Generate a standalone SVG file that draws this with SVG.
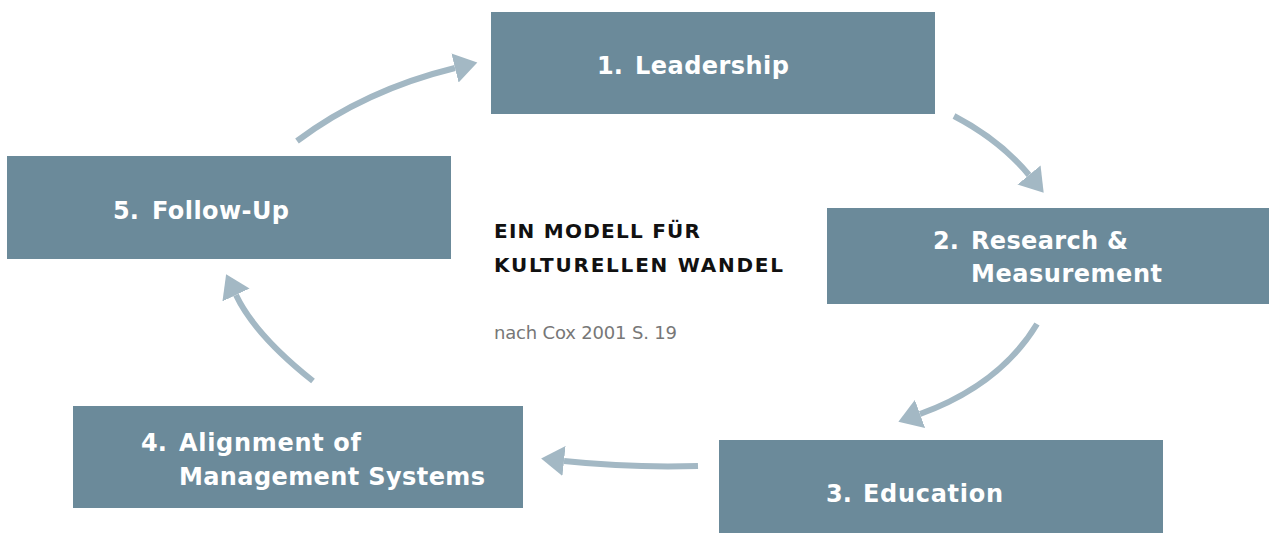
<svg xmlns="http://www.w3.org/2000/svg" width="1269" height="533" viewBox="0 0 1269 533">
<style>
.box{fill:#6b8a9a}
.lbl{font-family:"DejaVu Sans",Roboto,sans-serif;font-weight:700;font-size:24px;fill:#ffffff}
.title{font-family:"DejaVu Sans",Roboto,sans-serif;font-weight:700;font-size:20px;fill:#111111}
.sub{font-family:"DejaVu Sans",Roboto,sans-serif;font-size:18px;fill:#777777}
.conn{fill:none;stroke:#a3b8c4;stroke-width:6}
</style>
<defs>
<marker id="ah" markerUnits="userSpaceOnUse" markerWidth="24" markerHeight="30" refX="0" refY="15" orient="auto" viewBox="0 0 24 30">
<path d="M0,0 L23,15 L0,30 Z" fill="#a3b8c4"/>
</marker>
</defs>
<rect width="1269" height="533" fill="#ffffff"/>
<g id="connectors">
<path class="conn" d="M297,141 Q365,90 455,68" marker-end="url(#ah)"/>
<path class="conn" d="M954,116 Q1000,140 1029,175" marker-end="url(#ah)"/>
<path class="conn" d="M1037,324 Q1000,385 920,414" marker-end="url(#ah)"/>
<path class="conn" d="M698,466 Q630,468 564,461" marker-end="url(#ah)"/>
<path class="conn" d="M313,381 Q255,335 236,295" marker-end="url(#ah)"/>
</g>
<g id="node1">
<rect class="box" x="491" y="12" width="444" height="102"/>
<text class="lbl" x="597" y="74">1.</text>
<text class="lbl" x="635" y="74" textLength="154">Leadership</text>
</g>
<g id="node2">
<rect class="box" x="827" y="208" width="442" height="96"/>
<text class="lbl" x="933" y="249">2.</text>
<text class="lbl" x="971" y="249" textLength="157">Research &amp;</text>
<text class="lbl" x="971" y="282" textLength="191">Measurement</text>
</g>
<g id="node3">
<rect class="box" x="719" y="440" width="444" height="93"/>
<text class="lbl" x="826" y="502">3.</text>
<text class="lbl" x="863" y="502" textLength="140">Education</text>
</g>
<g id="node4">
<rect class="box" x="73" y="406" width="450" height="102"/>
<text class="lbl" x="141" y="451">4.</text>
<text class="lbl" x="179" y="451" textLength="182">Alignment of</text>
<text class="lbl" x="179" y="485" textLength="306">Management Systems</text>
</g>
<g id="node5">
<rect class="box" x="7" y="156" width="444" height="103"/>
<text class="lbl" x="113" y="219">5.</text>
<text class="lbl" x="152" y="219" textLength="137">Follow-Up</text>
</g>
<g id="caption">
<text class="title" x="494" y="238" textLength="206">EIN MODELL FÜR</text>
<text class="title" x="494" y="272" textLength="289">KULTURELLEN WANDEL</text>
<text class="sub" x="494" y="339" textLength="183">nach Cox 2001 S. 19</text>
</g>
</svg>
